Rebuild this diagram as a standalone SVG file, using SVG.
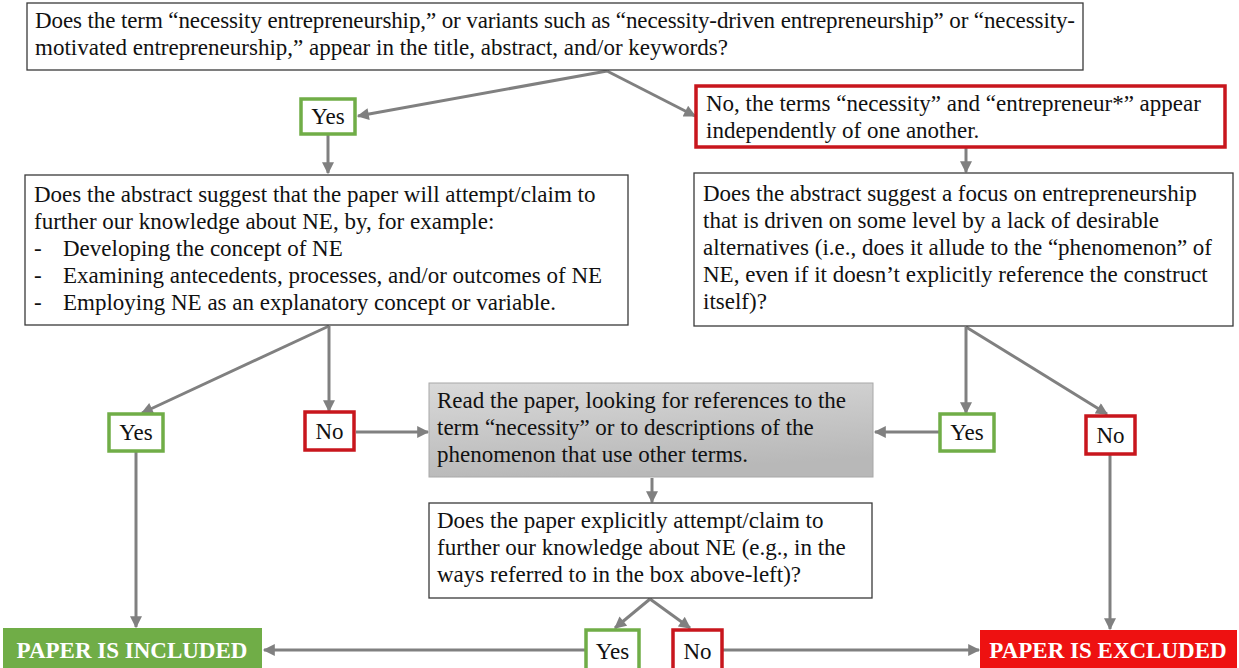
<svg xmlns="http://www.w3.org/2000/svg" width="1239" height="668" viewBox="0 0 1239 668">
<style>
.t{font-family:"Liberation Serif","Times New Roman",serif;font-size:23px;fill:#111}
.c{text-anchor:middle}
.b{fill:#fff;stroke:#3a3a3a;stroke-width:1.3}
.g{fill:#fff;stroke:#70AD47;stroke-width:3.5}
.r{fill:#fff;stroke:#C8161D;stroke-width:3.5}
.w{font-family:"Liberation Serif","Times New Roman",serif;font-size:23px;font-weight:bold;fill:#fff;text-anchor:middle}
.con path{fill:none;stroke:#808080;stroke-width:3;marker-end:url(#ah)}
</style>
<defs>
<marker id="ah" viewBox="0 0 10 10" refX="9" refY="5" markerWidth="13" markerHeight="12" orient="auto" markerUnits="userSpaceOnUse">
<path d="M0,0 L10,5 L0,10 z" fill="#808080"/>
</marker>
<linearGradient id="gr" x1="0" y1="0" x2="0.3" y2="1">
<stop offset="0" stop-color="#d9d9d9"/>
<stop offset="1" stop-color="#b8b8b8"/>
</linearGradient>
</defs>
<rect width="1239" height="668" fill="#fff"/>

<g class="con">
<path d="M607,71 L358,116"/>
<path d="M607,71 L695,116"/>
<path d="M328,135 L328,173"/>
<path d="M966,148 L966,172"/>
<path d="M329,326 L142,413"/>
<path d="M329,326 L329,411"/>
<path d="M356,432 L428,432"/>
<path d="M966,327 L966,413"/>
<path d="M966,327 L1107,414"/>
<path d="M939,432 L875,432"/>
<path d="M652,478 L652,502"/>
<path d="M136,452 L136,627"/>
<path d="M1110,454 L1110,629"/>
<path d="M650,599 L615,628"/>
<path d="M650,599 L690,628"/>
<path d="M585,650 L264,650"/>
<path d="M723,650 L979,650"/>
</g>

<g id="q1">
<rect class="b" x="27" y="3" width="1056" height="67"/>
<text class="t" x="35" y="28" textLength="1040" lengthAdjust="spacing">Does the term “necessity entrepreneurship,” or variants such as “necessity-driven entrepreneurship” or “necessity-</text>
<text class="t" x="35" y="55">motivated entrepreneurship,” appear in the title, abstract, and/or keywords?</text>
</g>

<g id="yes1">
<rect class="g" x="301" y="99" width="54" height="35"/>
<text class="t c" x="328" y="124">Yes</text>
</g>

<g id="no1">
<rect class="r" x="696" y="86" width="529" height="61"/>
<text class="t" x="706" y="111">No, the terms “necessity” and “entrepreneur*” appear</text>
<text class="t" x="706" y="138">independently of one another.</text>
</g>

<g id="q2">
<rect class="b" x="25" y="175" width="603" height="150"/>
<text class="t" x="34" y="202">Does the abstract suggest that the paper will attempt/claim to</text>
<text class="t" x="34" y="229">further our knowledge about NE, by, for example:</text>
<text class="t" x="34" y="256">-</text><text class="t" x="63" y="256">Developing the concept of NE</text>
<text class="t" x="34" y="283">-</text><text class="t" x="63" y="283">Examining antecedents, processes, and/or outcomes of NE</text>
<text class="t" x="34" y="310">-</text><text class="t" x="63" y="310">Employing NE as an explanatory concept or variable.</text>
</g>

<g id="q3">
<rect class="b" x="694" y="173" width="539" height="153"/>
<text class="t" x="703" y="201">Does the abstract suggest a focus on entrepreneurship</text>
<text class="t" x="703" y="228">that is driven on some level by a lack of desirable</text>
<text class="t" x="703" y="255">alternatives (i.e., does it allude to the “phenomenon” of</text>
<text class="t" x="703" y="282">NE, even if it doesn’t explicitly reference the construct</text>
<text class="t" x="703" y="309">itself)?</text>
</g>

<g id="yes2">
<rect class="g" x="109" y="414" width="54" height="37"/>
<text class="t c" x="136" y="440">Yes</text>
</g>

<g id="no2">
<rect class="r" x="305" y="412" width="49" height="38"/>
<text class="t c" x="329.5" y="439">No</text>
</g>

<g id="read">
<rect x="429" y="383" width="444" height="94" fill="url(#gr)" stroke="#a8a8a8" stroke-width="1"/>
<text class="t" x="437" y="408">Read the paper, looking for references to the</text>
<text class="t" x="437" y="435">term “necessity” or to descriptions of the</text>
<text class="t" x="437" y="462">phenomenon that use other terms.</text>
</g>

<g id="yes3">
<rect class="g" x="940" y="414" width="54" height="37"/>
<text class="t c" x="967" y="440">Yes</text>
</g>

<g id="no3">
<rect class="r" x="1086" y="416" width="49" height="38"/>
<text class="t c" x="1110.5" y="443">No</text>
</g>

<g id="q4">
<rect class="b" x="429" y="503" width="443" height="95"/>
<text class="t" x="437" y="528">Does the paper explicitly attempt/claim to</text>
<text class="t" x="437" y="555">further our knowledge about NE (e.g., in the</text>
<text class="t" x="437" y="582">ways referred to in the box above-left)?</text>
</g>

<g id="yes4">
<rect class="g" x="586" y="630" width="53" height="40"/>
<text class="t c" x="612.5" y="659">Yes</text>
</g>

<g id="no4">
<rect class="r" x="673" y="630" width="49" height="40"/>
<text class="t c" x="697.5" y="659">No</text>
</g>

<g id="included">
<rect x="3" y="628" width="259" height="42" fill="#70AD47"/>
<text class="w" x="132" y="658">PAPER IS INCLUDED</text>
</g>

<g id="excluded">
<rect x="980" y="630" width="257" height="40" fill="#EE1111"/>
<text class="w" x="1108" y="658">PAPER IS EXCLUDED</text>
</g>
</svg>
